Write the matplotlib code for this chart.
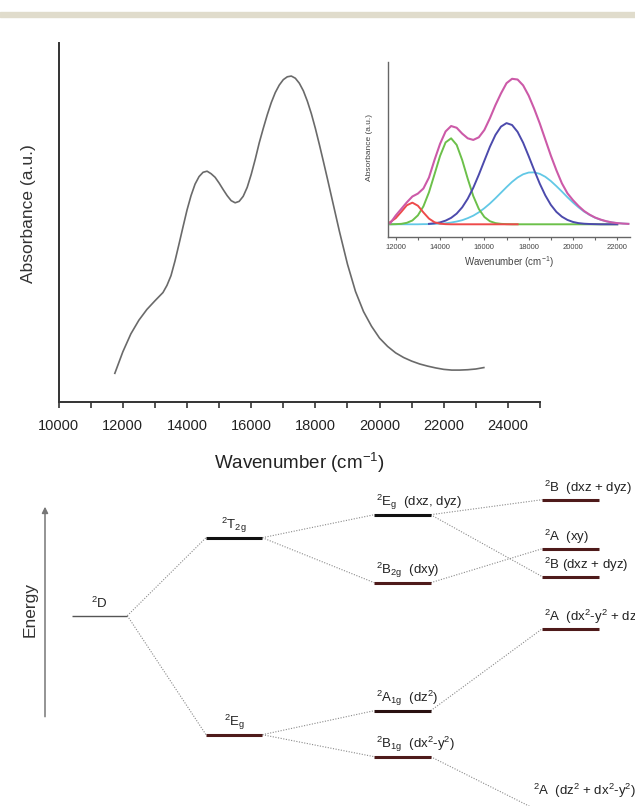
import numpy as np
import matplotlib.pyplot as plt
from matplotlib.patches import Rectangle
from matplotlib.ticker import MultipleLocator

plt.rcParams['font.family'] = ['Liberation Sans', 'DejaVu Sans']
plt.rcParams['mathtext.fontset'] = 'custom'
plt.rcParams['mathtext.rm'] = 'Liberation Sans'
plt.rcParams['mathtext.it'] = 'Liberation Sans:italic'
plt.rcParams['mathtext.bf'] = 'Liberation Sans:bold'
plt.rcParams['mathtext.default'] = 'rm'

# --- main absorption spectrum ---
MAIN_WN = [11750, 12000, 12250, 12500, 12750, 13000, 13250, 13375, 13500, 13625,
           13750, 13875, 14000, 14125, 14250, 14375, 14500, 14625, 14750, 14875,
           15000, 15125, 15250, 15375, 15500, 15625, 15750, 15875, 16000, 16125,
           16250, 16375, 16500, 16625, 16750, 16875, 17000, 17125, 17250, 17375,
           17500, 17625, 17750, 17875, 18000, 18125, 18250, 18375, 18500, 18750,
           19000, 19250, 19500, 19750, 20000, 20250, 20500, 20750, 21000, 21250,
           21500, 21750, 22000, 22250, 22500, 22750, 23000, 23250]
MAIN_ABS = [0.080, 0.140, 0.190, 0.228, 0.258, 0.282, 0.305, 0.325, 0.352, 0.393,
            0.440, 0.488, 0.535, 0.575, 0.607, 0.628, 0.640, 0.643, 0.636, 0.626,
            0.610, 0.592, 0.575, 0.561, 0.555, 0.559, 0.573, 0.598, 0.634, 0.676,
            0.722, 0.762, 0.800, 0.834, 0.862, 0.883, 0.898, 0.906, 0.908, 0.902,
            0.888, 0.867, 0.838, 0.803, 0.762, 0.717, 0.670, 0.622, 0.573, 0.475,
            0.384, 0.308, 0.252, 0.211, 0.178, 0.155, 0.137, 0.124, 0.114, 0.106,
            0.100, 0.095, 0.091, 0.089, 0.089, 0.090, 0.092, 0.096]

# --- inset: deconvolution into bands (None = not drawn) ---
INSET_WN = [11750, 12000, 12250, 12500, 12750, 13000, 13250, 13500, 13750, 14000,
            14250, 14500, 14750, 15000, 15250, 15500, 15750, 16000, 16250, 16500,
            16750, 17000, 17250, 17500, 17750, 18000, 18250, 18500, 18750, 19000,
            19250, 19500, 19750, 20000, 20250, 20500, 20750, 21000, 21250, 21500,
            21750, 22000, 22250, 22500]
FIT_TOTAL = [0.007, 0.060, 0.105, 0.150, 0.190, 0.210, 0.245, 0.320, 0.440, 0.550,
             0.635, 0.672, 0.660, 0.620, 0.588, 0.577, 0.595, 0.645, 0.725, 0.815,
             0.895, 0.965, 0.995, 0.990, 0.950, 0.880, 0.790, 0.690, 0.580, 0.470,
             0.370, 0.280, 0.212, 0.165, 0.125, 0.091, 0.066, 0.046, 0.032, 0.021,
             0.013, 0.008, 0.005, 0.003]
BAND_RED = [0.015, 0.042, 0.085, 0.130, 0.148, 0.127, 0.081, 0.039, 0.014, 0.004,
            0.001, 0, 0, 0, 0, 0, 0, 0, 0, 0,
            0, 0, 0, 0, None, None, None, None, None, None,
            None, None, None, None, None, None, None, None, None, None,
            None, None, None, None]
BAND_GREEN = [0.000, 0.001, 0.003, 0.010, 0.026, 0.061, 0.123, 0.219, 0.342, 0.467,
              0.560, 0.588, 0.543, 0.439, 0.311, 0.193, 0.105, 0.050, 0.021, 0.008,
              0.003, 0.001, 0, 0, 0, 0, 0, 0, 0, 0,
              0, 0, 0, 0, 0, 0, 0, 0, 0, 0,
              0, 0, None, None]
BAND_BLUE = [None, None, None, None, None, None, None, 0.003, 0.007, 0.013,
             0.025, 0.044, 0.073, 0.116, 0.175, 0.250, 0.339, 0.435, 0.530, 0.611,
             0.668, 0.692, 0.679, 0.632, 0.558, 0.466, 0.370, 0.278, 0.198, 0.133,
             0.085, 0.052, 0.030, 0.016, 0.008, 0.004, 0.002, 0.001, 0, 0,
             0, 0, None, None]
BAND_CYAN = [0, 0, 0, 0, 0, 0, 0.001, 0.001, 0.003, 0.004,
             0.007, 0.012, 0.019, 0.028, 0.042, 0.059, 0.082, 0.110, 0.142, 0.178,
             0.216, 0.254, 0.290, 0.320, 0.342, 0.354, 0.355, 0.345, 0.325, 0.296,
             0.261, 0.224, 0.185, 0.149, 0.116, 0.087, 0.064, 0.045, 0.031, 0.020,
             0.013, 0.008, 0.005, 0.003]

# --- energy level diagram ---
LEVEL_LABELS = [r'$^{2}$D', r'$^{2}$T$_{2g}$', r'$^{2}$E$_{g}$',
                r'$^{2}$E$_{g}$  (dxz, dyz)', r'$^{2}$B$_{2g}$  (dxy)',
                r'$^{2}$A$_{1g}$  (dz$^{2}$)', r'$^{2}$B$_{1g}$  (dx$^{2}$-y$^{2}$)',
                r'$^{2}$B  (dxz + dyz)', r'$^{2}$A  (xy)', r'$^{2}$B (dxz + dyz)',
                r'$^{2}$A  (dx$^{2}$-y$^{2}$ + dz$^{2}$)',
                r'$^{2}$A  (dz$^{2}$ + dx$^{2}$-y$^{2}$)']
LEVEL_COLUMN = [0, 1, 1, 2, 2, 2, 2, 3, 3, 3, 3, 3]
LEVEL_ENERGY = [0.0, 7.8, -11.9, 10.1, 3.3, -9.5, -14.1, 11.6, 6.7, 3.9, -1.3, -19.7]
CONNECTIONS = [(0, 1), (0, 2), (1, 3), (1, 4), (2, 5), (2, 6),
               (3, 7), (3, 9), (4, 8), (5, 10), (6, 11)]

# layout / style
COL_LEFT = [71.7, 206, 374.3, 542.3]
COL_RIGHT = [127.3, 262.3, 430.7, 599]
DARK_RED = '#4e1a1a'
LEVEL_COLORS = ['#555555', '#111111', DARK_RED, '#111111', DARK_RED, '#2a1010',
                DARK_RED, DARK_RED, DARK_RED, DARK_RED, DARK_RED, DARK_RED]
TXT = '#222222'

fig = plt.figure(figsize=(6.35, 8.06), dpi=100)
fig.patches.append(Rectangle((0, 1 - 17 / 806), 1, 5 / 806, transform=fig.transFigure,
                             color='#e0dccc', zorder=0))

# main spectrum
ax = fig.add_axes([0.0924, 0.5012, 0.758, 0.4454])
ax.plot(MAIN_WN, MAIN_ABS, color='#6a6a6a', lw=1.2)
ax.set_xlim(10000, 25000)
ax.set_ylim(0, 1)
for s in ('top', 'right'):
    ax.spines[s].set_visible(False)
for s in ('left', 'bottom'):
    ax.spines[s].set_color('#333333')
    ax.spines[s].set_linewidth(1.4)
ax.set_yticks([])
ax.xaxis.set_major_locator(MultipleLocator(2000))
ax.xaxis.set_minor_locator(MultipleLocator(1000))
ax.tick_params(axis='x', which='both', direction='out', length=4, width=1.2,
               color='#333333', labelsize=10.5, labelcolor=TXT, pad=8)
ax.set_xlabel(r'Wavenumber (cm$^{-1}$)', fontsize=13.5, color=TXT, labelpad=13)
ax.set_ylabel('Absorbance (a.u.)', fontsize=12.5, color='#333333')
ax.yaxis.set_label_coords(-0.047, 0.526)

# inset with fitted bands
ax2 = fig.add_axes([0.611, 0.7063, 0.381, 0.2168])
ax2.plot(INSET_WN, np.array(BAND_CYAN, dtype=float), color='#62c8e6', lw=1.3)
ax2.plot(INSET_WN, np.array(BAND_GREEN, dtype=float), color='#6cc04a', lw=1.4)
ax2.plot(INSET_WN, np.array(BAND_BLUE, dtype=float), color='#4c4aac', lw=1.4)
ax2.plot(INSET_WN, np.array(BAND_RED, dtype=float), color='#ee4a4a', lw=1.4)
ax2.plot(INSET_WN, FIT_TOTAL, color='#cc5aa8', lw=1.5)
ax2.set_xlim(11650, 22570)
ax2.set_ylim(-0.085, 1.11)
for s in ('top', 'right'):
    ax2.spines[s].set_visible(False)
for s in ('left', 'bottom'):
    ax2.spines[s].set_color('#666666')
    ax2.spines[s].set_linewidth(1.0)
ax2.set_yticks([])
ax2.xaxis.set_major_locator(MultipleLocator(2000))
ax2.xaxis.set_minor_locator(MultipleLocator(1000))
ax2.tick_params(axis='x', which='both', direction='out', length=2.5, width=0.8,
                color='#666666', labelsize=5.5, labelcolor='#444444', pad=3)
ax2.set_xlabel(r'Wavenumber (cm$^{-1}$)', fontsize=7, color='#444444', labelpad=2)
ax2.set_ylabel('Absorbance (a.u.)', fontsize=6, color='#444444')
ax2.yaxis.set_label_coords(-0.062, 0.513)

# energy level diagram
ax3 = fig.add_axes([0, 0, 1, 336 / 806])
ax3.set_xlim(0, 635)
ax3.set_ylim(-19.03, 14.57)
ax3.axis('off')

for a, b in CONNECTIONS:
    ax3.plot([COL_RIGHT[LEVEL_COLUMN[a]], COL_LEFT[LEVEL_COLUMN[b]]],
             [LEVEL_ENERGY[a], LEVEL_ENERGY[b]],
             ls=(0, (1, 1.4)), color='#8a8a8a', lw=0.8)

for i, (lab, col, e) in enumerate(zip(LEVEL_LABELS, LEVEL_COLUMN, LEVEL_ENERGY)):
    lw = 1.0 if col == 0 else 2.2
    ax3.plot([COL_LEFT[col], COL_RIGHT[col]], [e, e], color=LEVEL_COLORS[i], lw=lw,
             solid_capstyle='butt')
    if col < 2:
        ax3.text((COL_LEFT[col] + COL_RIGHT[col]) / 2, e + 1.25, lab, ha='center',
                 va='center', fontsize=9.5, color=TXT)
    elif i == len(LEVEL_LABELS) - 1:
        ax3.text(COL_LEFT[col] - 9, e + 2.15, lab, ha='left', va='center',
                 fontsize=9.5, color=TXT)
    else:
        ax3.text(COL_LEFT[col] + 1.5, e + 1.2, lab, ha='left', va='center',
                 fontsize=9.5, color=TXT, clip_on=False)

ax3.annotate('', xy=(45, 10.9), xytext=(45, -10.1),
             arrowprops=dict(arrowstyle='-|>', color='#777777', lw=1.1,
                             mutation_scale=9, shrinkA=0, shrinkB=0))
ax3.text(30, 0.6, 'Energy', rotation=90, ha='center', va='center',
         fontsize=12.5, color='#333333')

fig.savefig('out.png', dpi=100)
